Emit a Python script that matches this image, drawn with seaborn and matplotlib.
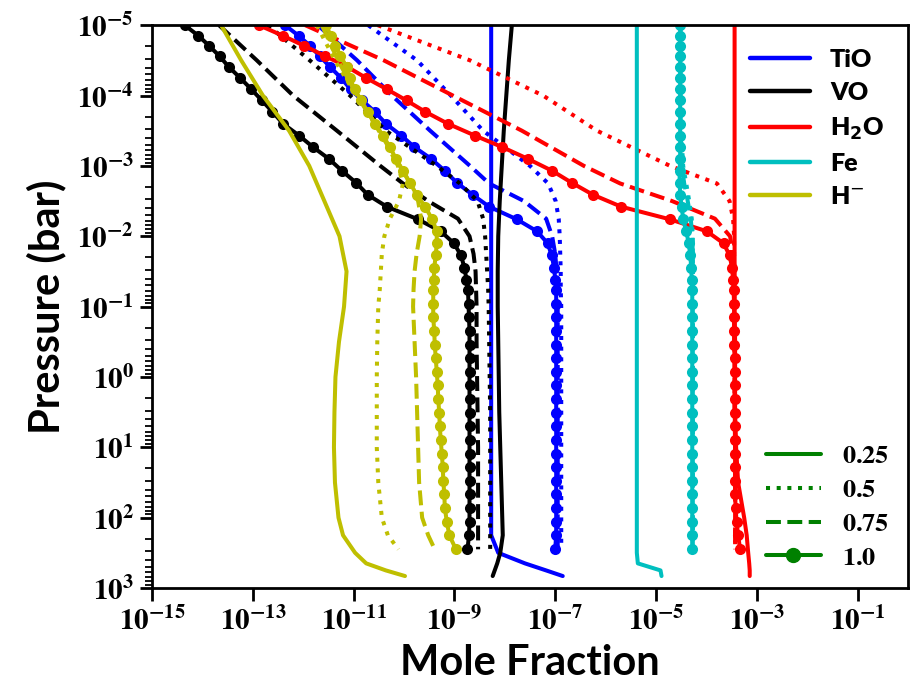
import numpy as np
import matplotlib
matplotlib.use("Agg")
import matplotlib.pyplot as plt
import seaborn as sns
from matplotlib.lines import Line2D
from matplotlib.ticker import FixedLocator, NullLocator, LogLocator, NullFormatter

sns.set_style("ticks")
plt.rcParams["font.family"] = ["Lato", "DejaVu Sans"]
plt.rcParams["mathtext.fontset"] = "stix"
for k in ["text.color", "axes.labelcolor", "xtick.color", "ytick.color", "axes.edgecolor"]:
    plt.rcParams[k] = "black"

# -------------------------------------------------------
# Data (log10 pressure [bar], log10 mole fraction)
# -------------------------------------------------------
species = ["TiO", "VO", "H$_\\mathbf{2}$O", "Fe", "H$^{-}$"]
colors = ["b", "k", "r", "c", "y"]
fractions = ["0.25", "0.5", "0.75", "1.0"]

# pressure levels
logp_100 = [-5.00, -4.85, -4.71, -4.56, -4.41, -4.25, -4.09, -3.93, -3.77, -3.60,
            -3.43, -3.27, -3.10, -2.93, -2.76, -2.59, -2.42, -2.24, -2.07, -1.90,
            -1.73, -1.55, -1.38, -1.23, -1.04, -0.85, -0.65, -0.46, -0.27, -0.07,
            0.12, 0.32, 0.51, 0.70, 0.90, 1.09, 1.28, 1.48, 1.67, 1.86,
            2.06, 2.25, 2.45]
logp_mid = [-5.0, -4.5, -4.0, -3.5, -3.0, -2.75, -2.5, -2.25, -2.0, -1.75,
            -1.5, -1.25, -1.0, -0.5, 0.0, 0.5, 1.0, 1.5, 2.0, 2.25, 2.45]
logp_025 = [-5.0, -4.5, -4.0, -3.5, -3.0, -2.5, -2.0, -1.5, -1.0, -0.5,
            0.0, 0.5, 1.0, 1.5, 2.0, 2.25, 2.5, 2.65, 2.75, 2.83]

# TiO
tio_025 = [-8.27, -8.27, -8.27, -8.27, -8.27, -8.27, -8.27, -8.27, -8.27, -8.27,
           -8.27, -8.27, -8.27, -8.27, -8.27, -8.27, -8.13, -7.60, -7.18, -6.85]
tio_050 = [-10.71, -9.74, -9.07, -8.43, -7.50, -7.14, -6.99, -6.93, -6.91, -6.90,
           -6.89, -6.89, -6.88, -6.88, -6.88, -6.88, -6.88, -6.88, -6.88, -6.88, -6.88]
tio_075 = [-11.71, -10.93, -10.24, -9.48, -8.69, -8.31, -7.62, -7.18, -7.06, -7.00,
           -6.97, -6.96, -6.95, -6.95, -6.95, -6.95, -6.95, -6.95, -6.95, -6.95, -6.95]
tio_100 = [-12.36, -12.09, -11.87, -11.67, -11.47, -11.25, -11.06, -10.83, -10.58, -10.36,
           -10.05, -9.80, -9.46, -9.19, -8.95, -8.64, -8.31, -7.76, -7.36, -7.15,
           -7.07, -7.02, -7.00, -6.98, -6.98, -6.98, -6.98, -6.98, -6.98, -6.98,
           -6.98, -6.98, -6.98, -6.98, -6.98, -6.98, -6.98, -6.98, -6.98, -6.98,
           -6.98, -6.98, -7.00]

# VO
vo_025 = [-7.86, -7.92, -7.97, -8.02, -8.06, -8.10, -8.13, -8.14, -8.14, -8.13,
          -8.12, -8.11, -8.09, -8.07, -8.05, -8.04, -8.09, -8.15, -8.20, -8.24]
vo_050 = [-12.70, -11.87, -11.07, -10.36, -9.35, -8.89, -8.54, -8.43, -8.39, -8.37,
          -8.35, -8.33, -8.32, -8.31, -8.30, -8.29, -8.29, -8.29, -8.29, -8.29, -8.29]
vo_075 = [-13.67, -12.92, -12.20, -11.33, -10.47, -10.02, -9.52, -8.93, -8.70, -8.62,
          -8.58, -8.57, -8.56, -8.56, -8.55, -8.54, -8.53, -8.53, -8.53, -8.53, -8.53]
vo_100 = [-14.35, -14.08, -13.87, -13.66, -13.48, -13.25, -13.03, -12.82, -12.61, -12.40,
          -12.08, -11.81, -11.49, -11.23, -10.95, -10.72, -10.34, -9.72, -9.27, -9.01,
          -8.87, -8.80, -8.76, -8.73, -8.72, -8.71, -8.70, -8.70, -8.70, -8.70,
          -8.70, -8.70, -8.70, -8.70, -8.70, -8.70, -8.70, -8.70, -8.70, -8.70,
          -8.70, -8.71, -8.74]

# H2O
h2o_025 = [-3.44, -3.44, -3.44, -3.44, -3.44, -3.44, -3.44, -3.44, -3.44, -3.43,
           -3.43, -3.43, -3.41, -3.37, -3.25, -3.20, -3.17, -3.15, -3.14, -3.14]
h2o_050 = [-10.52, -8.69, -7.24, -6.17, -4.72, -3.79, -3.54, -3.47, -3.45, -3.45,
           -3.45, -3.45, -3.44, -3.44, -3.44, -3.43, -3.43, -3.43, -3.43, -3.43, -3.43]
h2o_075 = [-11.96, -10.40, -9.03, -7.66, -6.43, -5.71, -4.68, -3.83, -3.53, -3.47,
           -3.45, -3.45, -3.45, -3.44, -3.44, -3.44, -3.43, -3.43, -3.43, -3.43, -3.43]
h2o_100 = [-12.88, -12.40, -11.99, -11.56, -11.13, -10.75, -10.34, -9.95, -9.58, -9.13,
           -8.59, -8.06, -7.54, -7.06, -6.67, -6.25, -5.69, -4.72, -3.99, -3.66,
           -3.54, -3.49, -3.47, -3.46, -3.45, -3.45, -3.45, -3.45, -3.44, -3.44,
           -3.44, -3.44, -3.44, -3.43, -3.43, -3.43, -3.43, -3.43, -3.43, -3.42,
           -3.40, -3.37, -3.33]

# Fe
fe_025 = [-5.38, -5.38, -5.38, -5.38, -5.38, -5.38, -5.38, -5.38, -5.38, -5.38,
          -5.38, -5.38, -5.38, -5.38, -5.38, -5.38, -5.38, -5.36, -4.91, -4.89]
fe_050 = [-4.50, -4.50, -4.50, -4.50, -4.46, -4.40, -4.34, -4.29, -4.27, -4.27,
          -4.27, -4.27, -4.27, -4.27, -4.27, -4.27, -4.27, -4.27, -4.27, -4.27, -4.27]
fe_075 = [-4.51, -4.51, -4.51, -4.51, -4.49, -4.44, -4.37, -4.31, -4.28, -4.27,
          -4.27, -4.27, -4.27, -4.27, -4.27, -4.27, -4.27, -4.27, -4.27, -4.27, -4.27]
fe_100 = [-4.52, -4.52, -4.52, -4.52, -4.52, -4.52, -4.52, -4.52, -4.52, -4.52,
          -4.52, -4.52, -4.52, -4.53, -4.53, -4.52, -4.49, -4.46, -4.40, -4.35,
          -4.32, -4.30, -4.29, -4.28, -4.28, -4.28, -4.28, -4.28, -4.28, -4.28,
          -4.28, -4.28, -4.28, -4.28, -4.28, -4.28, -4.28, -4.28, -4.28, -4.28,
          -4.28, -4.28, -4.28]

# H-
hm_025 = [-13.63, -13.23, -12.80, -12.28, -11.88, -11.58, -11.28, -11.14, -11.19, -11.29,
          -11.36, -11.38, -11.39, -11.37, -11.30, -11.21, -10.97, -10.75, -10.36, -9.98]
hm_050 = [-11.73, -11.37, -10.95, -10.48, -10.12, -10.02, -10.10, -10.28, -10.39, -10.44,
          -10.46, -10.48, -10.51, -10.53, -10.54, -10.54, -10.54, -10.51, -10.44, -10.32, -10.11]
hm_075 = [-11.63, -11.31, -10.93, -10.50, -10.08, -9.88, -9.72, -9.66, -9.69, -9.75,
          -9.79, -9.81, -9.82, -9.79, -9.76, -9.74, -9.72, -9.70, -9.64, -9.52, -9.39]
hm_100 = [-11.55, -11.45, -11.36, -11.26, -11.14, -11.08, -10.98, -10.85, -10.72, -10.57,
          -10.42, -10.28, -10.16, -10.02, -9.88, -9.75, -9.58, -9.44, -9.35, -9.35,
          -9.37, -9.40, -9.41, -9.42, -9.42, -9.42, -9.40, -9.39, -9.37, -9.35,
          -9.33, -9.32, -9.30, -9.29, -9.27, -9.25, -9.23, -9.22, -9.20, -9.19,
          -9.15, -9.10, -8.97]

profiles = {
    "TiO": [tio_025, tio_050, tio_075, tio_100],
    "VO": [vo_025, vo_050, vo_075, vo_100],
    "H2O": [h2o_025, h2o_050, h2o_075, h2o_100],
    "Fe": [fe_025, fe_050, fe_075, fe_100],
    "H-": [hm_025, hm_050, hm_075, hm_100],
}
pressures = [logp_025, logp_mid, logp_mid, logp_100]

x_tick_exp = [-15, -13, -11, -9, -7, -5, -3, -1]
y_tick_exp = [-5, -4, -3, -2, -1, 0, 1, 2, 3]

# -------------------------------------------------------
# Plot
# -------------------------------------------------------
styles = [
    dict(linestyle="-"),
    dict(linestyle=":"),
    dict(linestyle="--"),
    dict(linestyle="-", marker="o", markersize=8),
]

fig, ax = plt.subplots(figsize=(9.23, 7), dpi=100)
fig.subplots_adjust(left=0.1647, right=0.9837, bottom=0.16, top=0.964)
ax.set_xscale("log")
ax.set_yscale("log")

for key, color in zip(profiles.keys(), colors):
    for lx, lp, style in zip(profiles[key], pressures, styles):
        sns.lineplot(
            x=10 ** np.array(lx),
            y=10 ** np.array(lp),
            sort=False,
            estimator=None,
            color=color,
            linewidth=2.9,
            markeredgecolor=color,
            markeredgewidth=0,
            legend=False,
            ax=ax,
            **style
        )

ax.set_xlim(10.0 ** -15, 1.0)
ax.set_ylim(10.0 ** 3, 10.0 ** -5)

ax.xaxis.set_major_locator(FixedLocator([10.0 ** e for e in x_tick_exp]))
ax.set_xticklabels([r"$\mathbf{10^{%d}}$" % e for e in x_tick_exp])
ax.xaxis.set_minor_locator(NullLocator())
ax.yaxis.set_major_locator(FixedLocator([10.0 ** e for e in y_tick_exp]))
ax.set_yticklabels([r"$\mathbf{10^{%d}}$" % e for e in y_tick_exp])
ax.yaxis.set_minor_locator(LogLocator(base=10, subs=np.arange(2, 10), numticks=20))
ax.yaxis.set_minor_formatter(NullFormatter())

ax.tick_params(axis="both", which="major", direction="out", length=9, width=2,
               labelsize=21, pad=4)
ax.tick_params(axis="y", which="minor", direction="out", length=5, width=1.3)
for sp in ax.spines.values():
    sp.set_linewidth(2)

ax.set_xlabel("Mole Fraction", fontsize=30, fontweight="bold", labelpad=6)
ax.set_ylabel("Pressure (bar)", fontsize=30, fontweight="bold", labelpad=8)

# ---- species legend ----
sp_handles = [Line2D([], [], color=c, linewidth=3.2) for c in colors]
leg1 = ax.legend(sp_handles, species, loc="upper right", frameon=False,
                 prop=dict(size=18, weight="heavy"), labelspacing=0.45,
                 handlelength=2.4, handletextpad=0.8, borderaxespad=0.6,
                 borderpad=0.35)
for t in leg1.get_texts():
    t.set_math_fontfamily("dejavusans")
ax.add_artist(leg1)

# ---- fraction legend ----
fr_handles = [Line2D([], [], color="g", linewidth=2.9, **s) for s in styles]
fr_handles[3].set_markersize(10)
leg2 = ax.legend(fr_handles, [r"$\mathbf{%s}$" % f for f in fractions],
                 loc="lower right", frameon=False, prop=dict(size=19),
                 labelspacing=0.33, handlelength=2.1, handletextpad=0.8,
                 borderaxespad=0.2, borderpad=0.5)

fig.savefig("out.png", dpi=100)
